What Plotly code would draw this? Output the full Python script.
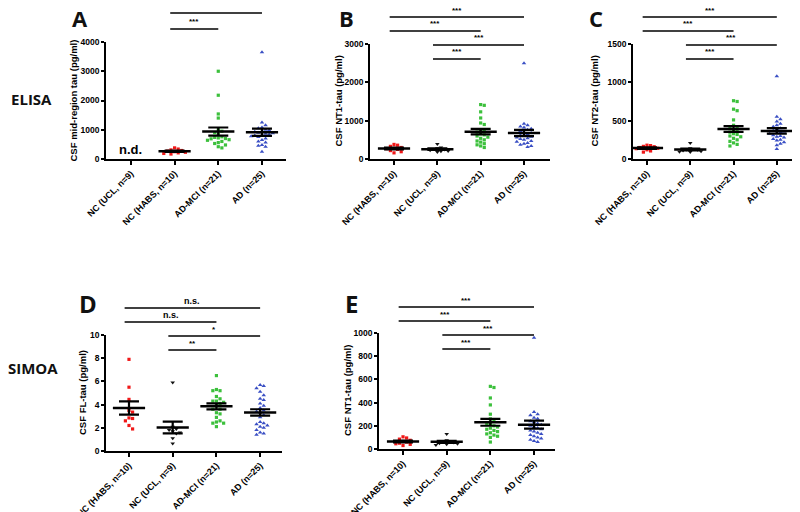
import numpy as np
import plotly.graph_objects as go

# ---------------- data ----------------
groups_A = ["NC (UCL, n=9)", "NC (HABS, n=10)", "AD-MCI (n=21)", "AD (n=25)"]
groups_BE = ["NC (HABS, n=10)", "NC (UCL, n=9)", "AD-MCI (n=21)", "AD (n=25)"]

# A: ELISA mid-region tau (pg/ml); NC (UCL) not determined
A_ucl = []
A_habs = [380, 340, 310, 290, 270, 250, 230, 210, 190, 170]
A_mci = [3000, 2180, 1540, 1400, 1000, 950, 900, 850, 760, 740, 720, 700, 690,
         660, 640, 600, 560, 530, 480, 420, 380]
A_ad = [3650, 1250, 1150, 1080, 1050, 1000, 980, 950, 930, 900, 880, 860, 840,
        820, 800, 780, 750, 700, 650, 600, 560, 480, 450, 420, 250]

# B: ELISA NT1-tau (pg/ml)
B_habs = [380, 360, 330, 300, 280, 270, 250, 220, 190, 160]
B_ucl = [390, 300, 280, 260, 250, 230, 210, 200, 180]
B_mci = [1420, 1400, 1230, 1070, 940, 900, 760, 730, 700, 660, 630, 600, 570,
         540, 500, 470, 440, 400, 370, 340, 300]
B_ad = [2500, 920, 880, 850, 820, 790, 760, 730, 700, 680, 650, 620, 600, 580,
        560, 540, 520, 500, 470, 450, 420, 400, 370, 340, 310]

# C: ELISA NT2-tau (pg/ml)
C_habs = [180, 175, 165, 160, 150, 140, 135, 120, 105, 90]
C_ucl = [210, 140, 130, 125, 120, 110, 100, 95, 90]
C_mci = [760, 750, 650, 630, 510, 440, 420, 400, 380, 370, 350, 330, 320, 300,
         290, 270, 250, 230, 210, 190, 170]
C_ad = [1080, 550, 520, 490, 460, 440, 420, 400, 390, 370, 360, 350, 340, 330,
        310, 300, 290, 280, 260, 250, 240, 220, 200, 180, 130]

# D: SIMOA FL-tau (pg/ml)
D_habs = [7.9, 5.5, 4.45, 3.5, 3.35, 2.85, 2.8, 2.6, 2.2, 1.9]
D_ucl = [5.9, 2.1, 1.9, 1.8, 1.7, 1.6, 1.5, 1.1, 0.65]
D_mci = [6.5, 5.3, 5.2, 5.2, 4.7, 4.5, 4.3, 4.3, 4.2, 4.1, 3.9, 3.6, 3.6, 3.3,
         3.2, 2.9, 2.6, 2.5, 2.4, 2.4, 2.1]
D_ad = [5.7, 5.6, 5.4, 5.1, 4.8, 4.5, 4.4, 4.1, 3.9, 3.7, 3.5, 3.4, 3.3, 3.1,
        2.9, 2.5, 2.4, 2.3, 2.2, 2.1, 2.0, 1.8, 1.6, 1.5, 1.4]

# E: SIMOA NT1-tau (pg/ml)
E_habs = [105, 95, 85, 75, 65, 60, 50, 45, 40, 30]
E_ucl = [130, 75, 65, 60, 55, 50, 45, 40, 35]
E_mci = [540, 530, 440, 380, 300, 260, 240, 220, 210, 200, 190, 180, 170, 160,
         150, 140, 130, 120, 110, 100, 60]
E_ad = [960, 320, 300, 290, 270, 260, 240, 230, 220, 210, 200, 190, 180, 170,
        160, 150, 140, 130, 120, 110, 100, 90, 80, 70, 60]

# significance comparisons (group index i, group index j, label)
comps_A = [(1, 3, "***"), (1, 2, "***")]
comps_B = [(0, 3, "***"), (0, 2, "***"), (1, 3, "***"), (1, 2, "***")]
comps_C = [(0, 3, "***"), (0, 2, "***"), (1, 3, "***"), (1, 2, "***")]
comps_D = [(0, 3, "n.s."), (0, 2, "n.s."), (1, 3, "*"), (1, 2, "**")]
comps_E = [(0, 3, "***"), (0, 2, "***"), (1, 3, "***"), (1, 2, "***")]

titles = {
    "A": "CSF mid-region tau (pg/ml)",
    "B": "CSF NT1-tau (pg/ml)",
    "C": "CSF NT2-tau (pg/ml)",
    "D": "CSF FL-tau (pg/ml)",
    "E": "CSF NT1-tau (pg/ml)",
}

# ---------------- layout geometry (page pixels) ----------------
PAGE_W, PAGE_H = 800, 512
OFF = 8                      # default page margin around the plot div
W, H = PAGE_W - OFF, PAGE_H - OFF

panels = [
    dict(key="A", groups=groups_A, data=[A_ucl, A_habs, A_mci, A_ad], comps=comps_A,
         x0=106, x1=286, ytop=42, ybot=159, xr=[-0.57, 3.55], yr=[0, 4000], dtick=1000,
         comp_y=[13, 29], letter=(80, 18, 22), ytx=73, nd=True),
    dict(key="B", groups=groups_BE, data=[B_habs, B_ucl, B_mci, B_ad], comps=comps_B,
         x0=370, x1=550, ytop=44, ybot=159, xr=[-0.554, 3.60], yr=[0, 3000], dtick=1000,
         comp_y=[17, 31, 45, 59], letter=(346, 18, 22), ytx=338, nd=False),
    dict(key="C", groups=groups_BE, data=[C_habs, C_ucl, C_mci, C_ad], comps=comps_C,
         x0=633, x1=795, ytop=44, ybot=159, xr=[-0.323, 3.42], yr=[0, 1500], dtick=500,
         comp_y=[17, 31, 45, 59], letter=(596, 18, 22), ytx=594, nd=False),
    dict(key="D", groups=groups_BE, data=[D_habs, D_ucl, D_mci, D_ad], comps=comps_D,
         x0=106, x1=282, ytop=335, ybot=451, xr=[-0.526, 3.50], yr=[0, 10], dtick=2,
         comp_y=[308, 322, 336, 350], letter=(88, 303, 24), ytx=82, nd=False),
    dict(key="E", groups=groups_BE, data=[E_habs, E_ucl, E_mci, E_ad], comps=comps_E,
         x0=379, x1=555, ytop=333, ybot=449, xr=[-0.55, 3.48], yr=[0, 1000], dtick=200,
         comp_y=[307, 321, 335, 349], letter=(351, 303, 24), ytx=347, nd=False),
]

styles = {
    "NC (HABS": dict(color="#f01818", symbol="square", size=3.2),
    "NC (UCL": dict(color="#111111", symbol="triangle-down", size=4),
    "AD-MCI": dict(color="#3cc03c", symbol="square", size=3.2),
    "AD (": dict(color="#3a4fc4", symbol="triangle-up", size=4),
}


def style_for(name):
    for k, v in styles.items():
        if name.startswith(k):
            return v
    return dict(color="black", symbol="circle", size=4)


def px(x):
    return (x - OFF) / W


def py(y):
    return 1 - (y - OFF) / H


def swarm(vals, ypu, d=3.6):
    """horizontal pixel offsets so that points do not overlap (beeswarm)"""
    vals = np.asarray(vals, dtype=float)
    order = np.argsort(-vals)
    placed = []
    offs = np.zeros(len(vals))
    cands = [0.0]
    for m in range(1, 12):
        cands += [m * d, -m * d]
    for idx in order:
        yv = vals[idx] * ypu
        for c in cands:
            ok = all((c - ox) ** 2 + (yv - oy) ** 2 >= d * d for ox, oy in placed)
            if ok:
                offs[idx] = c
                placed.append((c, yv))
                break
    return offs


fig = go.Figure()
annotations = []
shapes = []
FONT = "Liberation Sans"

for pi, p in enumerate(panels):
    n = pi + 1
    xa = "x" if n == 1 else f"x{n}"
    ya = "y" if n == 1 else f"y{n}"
    xpu = (p["x1"] - p["x0"]) / (p["xr"][1] - p["xr"][0])
    ypu = (p["ybot"] - p["ytop"]) / (p["yr"][1] - p["yr"][0])

    for gi, (gname, vals) in enumerate(zip(p["groups"], p["data"])):
        if len(vals) == 0:
            continue
        st = style_for(gname)
        offs = swarm(vals, ypu) / xpu
        fig.add_trace(go.Scatter(
            x=gi + offs, y=vals, mode="markers", xaxis=xa, yaxis=ya,
            marker=dict(color=st["color"], symbol=st["symbol"], size=st["size"],
                        line=dict(width=0)),
            showlegend=False, hoverinfo="y"))
        arr = np.asarray(vals, dtype=float)
        mean = arr.mean()
        sem = arr.std(ddof=1) / np.sqrt(len(arr))
        fig.add_trace(go.Scatter(
            x=[gi], y=[mean], mode="markers", xaxis=xa, yaxis=ya,
            marker=dict(symbol="line-ew", size=23, color="black",
                        line=dict(color="black", width=2.5)),
            error_y=dict(type="data", array=[sem], visible=True, color="black",
                         thickness=2.2, width=10),
            showlegend=False, hoverinfo="y"))

    axx = dict(domain=[px(p["x0"]), min(1, px(p["x1"]))], range=p["xr"], anchor=ya,
               automargin=False,
               showline=True, linecolor="black", linewidth=1.6, showgrid=False,
               zeroline=False, ticks="outside", ticklen=4, tickwidth=1.6,
               tickcolor="black", tickvals=list(range(4)), ticktext=p["groups"],
               tickangle=-45, tickfont=dict(family=FONT, size=9, color="black",
                                            weight="bold"))
    axy = dict(domain=[py(p["ybot"]), py(p["ytop"])], range=p["yr"], anchor=xa,
               automargin=False,
               showline=True, linecolor="black", linewidth=1.6, showgrid=False,
               zeroline=False, ticks="outside", ticklen=3, tickwidth=1.6,
               tickcolor="black", dtick=p["dtick"], tick0=0,
               tickfont=dict(family=FONT, size=8.5, color="black", weight="bold"))
    fig.layout["xaxis" if n == 1 else f"xaxis{n}"] = axx
    fig.layout["yaxis" if n == 1 else f"yaxis{n}"] = axy

    # y title
    annotations.append(dict(
        x=px(p["ytx"]), y=py((p["ytop"] + p["ybot"]) / 2), xref="paper", yref="paper",
        text=titles[p["key"]], textangle=-90, showarrow=False,
        font=dict(family=FONT, size=9.5, color="black", weight="bold"),
        xanchor="center", yanchor="middle"))
    # panel letter
    lx, ly, ls = p["letter"]
    annotations.append(dict(
        x=px(lx), y=py(ly), xref="paper", yref="paper",
        text=p["key"], showarrow=False,
        font=dict(family="Open Sans", size=ls, color="#111111", weight="bold"),
        xanchor="center", yanchor="middle"))
    # significance brackets
    for (i, j, lab), yl in zip(p["comps"], p["comp_y"]):
        shapes.append(dict(type="line", xref=xa, yref="paper", x0=i - 0.1, x1=j,
                           y0=py(yl), y1=py(yl), line=dict(color="black", width=1.6)))
        annotations.append(dict(
            x=(i - 0.1 + j) / 2, y=py(yl - 0.5), xref=xa, yref="paper", text=lab,
            showarrow=False, xanchor="center", yanchor="bottom",
            font=dict(family=FONT, size=8 if "*" in lab else 9, color="black",
                      weight="bold")))
    if p["nd"]:
        annotations.append(dict(
            x=0, y=py(149), xref=xa, yref="paper", text="n.d.", showarrow=False,
            xanchor="center", yanchor="middle",
            font=dict(family=FONT, size=13, color="black", weight="bold")))

annotations.append(dict(x=px(31), y=py(99), xref="paper", yref="paper", text="ELISA",
                        showarrow=False, xanchor="center", yanchor="middle",
                        font=dict(family="Open Sans", size=15, color="#111111", weight="bold")))
annotations.append(dict(x=px(33), y=py(368), xref="paper", yref="paper", text="SIMOA",
                        showarrow=False, xanchor="center", yanchor="middle",
                        font=dict(family="Open Sans", size=15, color="#111111", weight="bold")))

fig.update_layout(width=W, height=H, margin=dict(l=0, r=0, t=0, b=0, autoexpand=False),
                  paper_bgcolor="white", plot_bgcolor="white",
                  annotations=annotations, shapes=shapes, showlegend=False)

fig.write_html("out.html")
